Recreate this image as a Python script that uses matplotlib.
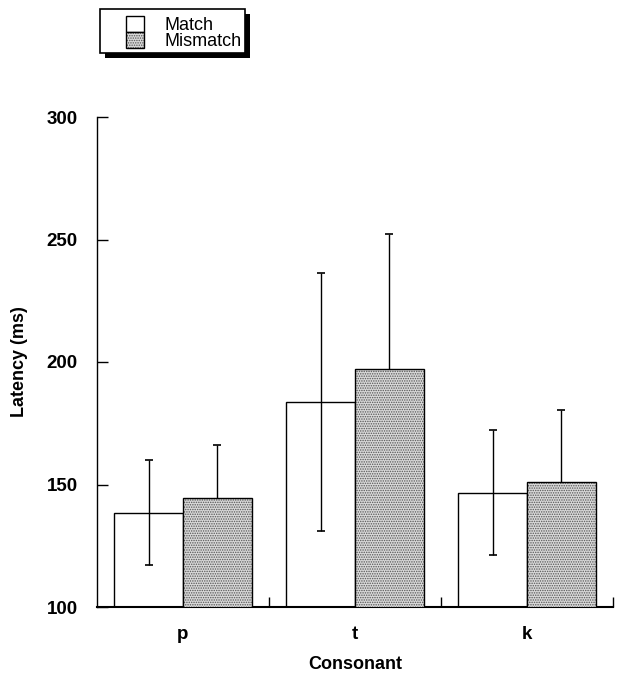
import matplotlib
matplotlib.use("Agg")
import matplotlib.pyplot as plt
from matplotlib.patches import Rectangle
import numpy as np

plt.rcParams['font.family'] = ['Liberation Sans', 'DejaVu Sans']
plt.rcParams['hatch.linewidth'] = 0.7

consonants = ['p', 't', 'k']
match_vals = [138.5, 183.7, 146.7]
match_err = [21.5, 52.8, 25.5]
mismatch_vals = [144.5, 197.0, 151.0]
mismatch_err = [21.8, 55.3, 29.5]
yticks = [100, 150, 200, 250, 300]
legend_labels = ['Match', 'Mismatch']

W, H = 623, 677
fig = plt.figure(figsize=(W / 100, H / 100), dpi=100)
ax = fig.add_axes([97 / W, 1 - 607 / H, (613 - 97) / W, (607 - 117) / H])

x = np.arange(len(consonants))
bw = 0.4
stipple_face = '#d9d9d9'
stipple_hatch = '#555555'

# match bars (white)
ax.bar(x - bw, match_vals, width=bw, align='edge', bottom=0,
       facecolor='white', edgecolor='black', linewidth=1.0, zorder=2)
ax.errorbar(x - bw / 2, match_vals, yerr=match_err, fmt='none', ecolor='black',
            elinewidth=1.0, capsize=3, capthick=1.2, zorder=3)

# mismatch bars (stipple)
ax.errorbar(x + bw / 2, mismatch_vals, yerr=mismatch_err, fmt='none', ecolor='black',
            elinewidth=1.0, capsize=3, capthick=1.2, zorder=1)
ax.bar(x, mismatch_vals, width=bw, align='edge', facecolor=stipple_face,
       edgecolor=stipple_hatch, hatch='.......', linewidth=0, zorder=4)
ax.bar(x, mismatch_vals, width=bw, align='edge', facecolor='none',
       edgecolor='black', linewidth=1.0, zorder=5)

ax.set_xlim(-0.5, 2.5)
ax.set_ylim(100, 300)
ax.set_yticks(yticks)
ax.set_yticklabels([str(v) for v in yticks], fontweight='bold', fontsize=13.5)
ax.set_xticks(x)
ax.set_xticklabels(consonants, fontweight='bold', fontsize=13.5)
ax.set_xticks([0.5, 1.5, 2.5], minor=True)
ax.tick_params(axis='x', which='major', length=0, pad=14)
ax.tick_params(axis='x', which='minor', direction='in', length=7, width=1)
ax.tick_params(axis='y', direction='in', length=8, width=1, pad=14)

for s in ['top', 'right']:
    ax.spines[s].set_visible(False)
ax.spines['left'].set_linewidth(1.0)
ax.spines['bottom'].set_linewidth(1.5)
ax.patch.set_visible(False)

ax.set_ylabel('Latency (ms)', fontweight='bold', fontsize=13, labelpad=13)
ax.set_xlabel('Consonant', fontweight='bold', fontsize=13, labelpad=9)

# legend drawn manually in figure pixel coords
def fr(x0, y0, w, h, **kw):
    return Rectangle((x0 / W, 1 - (y0 + h) / H), w / W, h / H,
                     transform=fig.transFigure, **kw)

fig.patches.append(fr(105, 14, 145, 44, facecolor='black', edgecolor='none', zorder=1))
fig.patches.append(fr(100, 9, 145, 44, facecolor='white', edgecolor='black', linewidth=1.2, zorder=2))
fig.patches.append(fr(126, 16, 18, 16, facecolor='white', edgecolor='black', linewidth=1.0, zorder=3))
fig.patches.append(fr(126, 32, 18, 16, facecolor=stipple_face, edgecolor=stipple_hatch,
                      hatch='.......', linewidth=0, zorder=3))
fig.patches.append(fr(126, 32, 18, 16, facecolor='none', edgecolor='black', linewidth=1.0, zorder=4))
fig.text(164 / W, 1 - 25 / H, legend_labels[0], fontsize=13, va='center', ha='left', zorder=5)
fig.text(164 / W, 1 - 42 / H, legend_labels[1], fontsize=13, va='center', ha='left', zorder=5)

fig.savefig('out.png', dpi=100)
